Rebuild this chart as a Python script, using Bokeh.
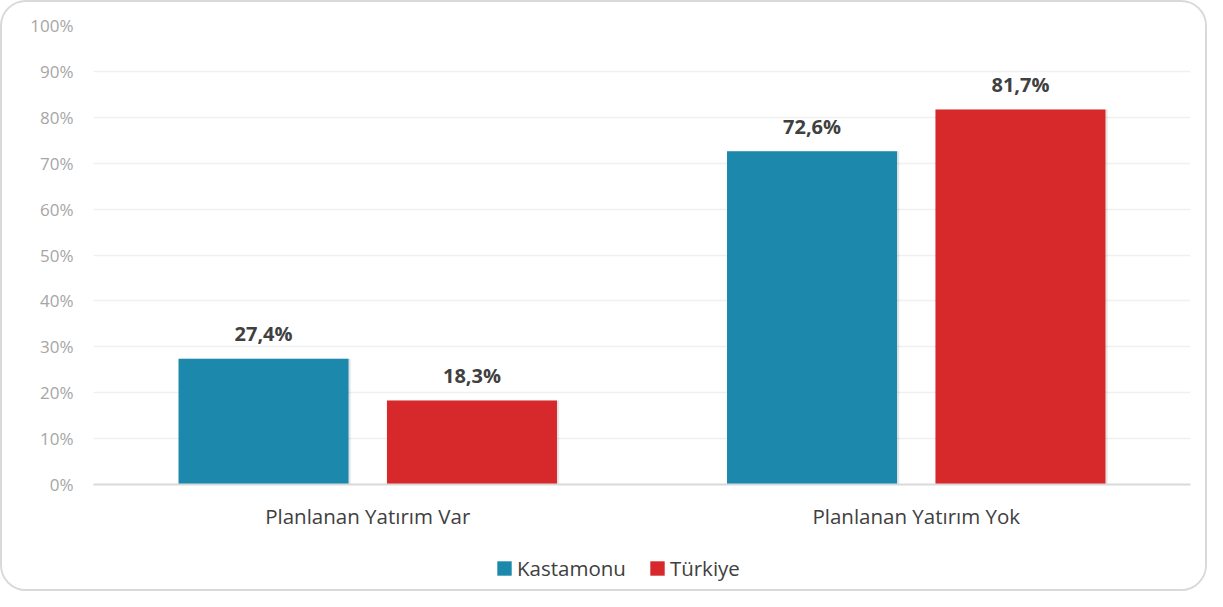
from bokeh.plotting import figure
from bokeh.layouts import column
from bokeh.models import ColumnDataSource, FactorRange, Legend, LegendItem, PrintfTickFormatter, FixedTicker
from bokeh.transform import dodge
from bokeh.core.properties import value
from bokeh.embed import file_html
from bokeh.resources import INLINE

categories = ["Planlanan Yatırım Var", "Planlanan Yatırım Yok"]
series_names = ["Kastamonu", "Türkiye"]
kastamonu = [27.4, 72.6]
turkiye = [18.3, 81.7]
colors = ["#1C89AC", "#D7282B"]
y_ticks = [0, 10, 20, 30, 40, 50, 60, 70, 80, 90, 100]

def fmt(v):
    return f"{v:.1f}".replace(".", ",") + "%"

src = ColumnDataSource(dict(
    cat=categories,
    k=kastamonu,
    t=turkiye,
    kl=[fmt(v) for v in kastamonu],
    tl=[fmt(v) for v in turkiye],
))

FONT = "Open Sans"

p = figure(x_range=FactorRange(*categories), y_range=(0, 100),
           width=1203, height=540, output_backend="svg", toolbar_location=None,
           min_border_left=91, min_border_top=23, min_border_right=15, min_border_bottom=58)
p.outline_line_color = None
p.x_range.range_padding = 0
p.x_range.factor_padding = 0

off = 0.19
w = 0.31
# subtle shadows
p.vbar(x=dodge("cat", -off + 0.004, range=p.x_range), top="k", bottom=-0.5, width=w, source=src,
       fill_color="#000000", fill_alpha=0.10, line_color=None)
p.vbar(x=dodge("cat", off + 0.004, range=p.x_range), top="t", bottom=-0.5, width=w, source=src,
       fill_color="#000000", fill_alpha=0.10, line_color=None)
p.vbar(x=dodge("cat", -off, range=p.x_range), top="k", width=w, source=src,
       fill_color=colors[0], line_color=None)
p.vbar(x=dodge("cat", off, range=p.x_range), top="t", width=w, source=src,
       fill_color=colors[1], line_color=None)

p.text(x=dodge("cat", -off, range=p.x_range), y="k", text="kl", source=src,
       text_font=value(FONT), text_font_style="bold", text_font_size="20px",
       text_color="#404040", text_align="center", text_baseline="alphabetic", y_offset=-25)
p.text(x=dodge("cat", off, range=p.x_range), y="t", text="tl", source=src,
       text_font=value(FONT), text_font_style="bold", text_font_size="20px",
       text_color="#404040", text_align="center", text_baseline="alphabetic", y_offset=-25)

p.yaxis.ticker = FixedTicker(ticks=y_ticks)
p.yaxis.formatter = PrintfTickFormatter(format="%d%%")
p.yaxis.axis_line_color = None
p.yaxis.major_tick_line_color = None
p.yaxis.minor_tick_line_color = None
p.yaxis.major_tick_out = 0
p.yaxis.major_label_text_font = FONT
p.yaxis.major_label_text_font_size = "17px"
p.yaxis.major_label_text_color = "#a6a6a6"
p.yaxis.major_label_standoff = 20

p.xaxis.axis_line_color = "#d9d9d9"
p.xaxis.axis_line_width = 2
p.xaxis.major_tick_line_color = None
p.xaxis.minor_tick_line_color = None
p.xaxis.major_tick_out = 0
p.xaxis.major_label_text_font = FONT
p.xaxis.major_label_text_font_size = "20.5px"
p.xaxis.major_label_text_color = "#404040"
p.xaxis.major_label_standoff = 17

p.xgrid.grid_line_color = None
p.ygrid.grid_line_color = "#f0f0f0"
p.ygrid.grid_line_width = 1.5

# legend strip
lf = figure(width=1203, height=47, x_range=(0, 1), y_range=(0, 1),
            output_backend="svg", toolbar_location=None,
            min_border=0, min_border_left=0, min_border_right=0,
            min_border_top=0, min_border_bottom=0)
lf.axis.visible = False
lf.grid.visible = False
lf.outline_line_color = None
lr1 = lf.vbar(x=[-5], top=[-5], width=0.1, fill_color=colors[0], line_color=None)
lr2 = lf.vbar(x=[-5], top=[-5], width=0.1, fill_color=colors[1], line_color=None)
legend = Legend(items=[LegendItem(label=series_names[0], renderers=[lr1]),
                       LegendItem(label=series_names[1], renderers=[lr2])],
                orientation="horizontal", location=(402, 7),
                glyph_width=18, glyph_height=18, label_height=26,
                label_standoff=4, spacing=22, padding=0, margin=0,
                border_line_color=None, background_fill_alpha=0,
                label_text_font=FONT, label_text_font_size="20.5px",
                label_text_color="#404040")
lf.add_layout(legend, "center")

layout = column(p, lf, spacing=0,
                styles={"border": "2px solid #d9d9d9", "border-radius": "26px",
                        "overflow": "hidden", "background": "white"})

open("out.html", "w").write(file_html(layout, INLINE))
